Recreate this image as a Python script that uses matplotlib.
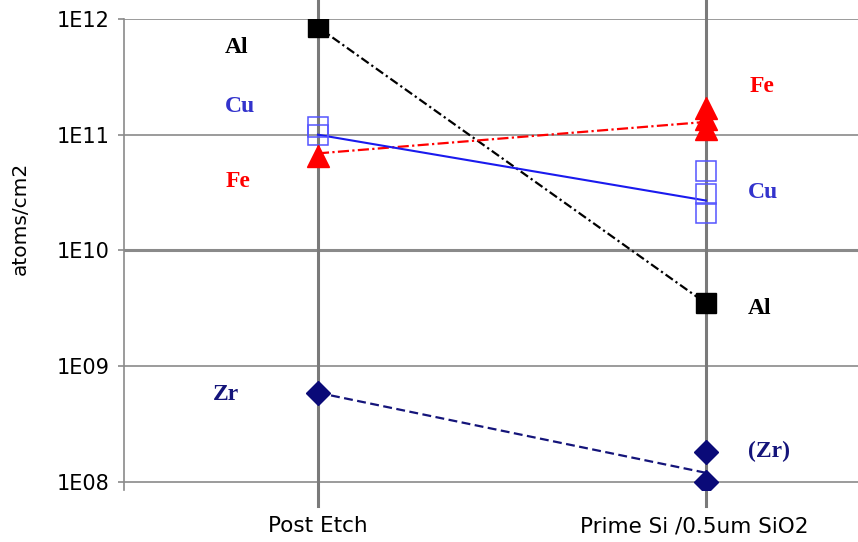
import matplotlib
matplotlib.use("Agg")
import matplotlib.pyplot as plt
from matplotlib.ticker import FixedLocator, FixedFormatter, NullLocator
from matplotlib.transforms import ScaledTranslation

# ── Data (atoms/cm2) ──────────────────────────────────────────────────────────
categories = ["Post Etch", "Prime Si /0.5um SiO2"]
cat_x = [0, 1]

al_post = [8.5e11]
al_prime = [3.5e9]
al_mean = [8.5e11, 3.5e9]

cu_post = [1.16e11, 0.99e11]
cu_prime = [4.9e10, 3.05e10, 2.09e10]
cu_mean = [1.0e11, 2.7e10]

fe_post = [6.5e10]
fe_prime = [1.69e11, 1.38e11, 1.13e11]
fe_mean = [6.9e10, 1.29e11]

zr_post = [5.9e8]
zr_prime = [1.8e8, 1.0e8]
zr_mean = [5.9e8, 1.2e8]

ytick_vals = [1e8, 1e9, 1e10, 1e11, 1e12]
ytick_labels = ["1E08", "1E09", "1E10", "1E11", "1E12"]

# element labels: (text, x, y, colour)
labels = [
    ("Al",   -0.240, 5.7e11,  "black"),
    ("Cu",   -0.240, 1.74e11, "#3333cc"),
    ("Fe",   -0.237, 3.98e10, "red"),
    ("Zr",   -0.271, 5.75e8,  "#14147a"),
    ("Fe",    1.113, 2.59e11, "red"),
    ("Cu",    1.108, 3.2e10,  "#3333cc"),
    ("Al",    1.108, 3.13e9,  "black"),
    ("(Zr)",  1.108, 1.85e8,  "#14147a"),
]

# ── Figure ────────────────────────────────────────────────────────────────────
fig = plt.figure(figsize=(8.58, 5.42), dpi=100)
ax = fig.add_axes([0.1445, 0.096, 0.8555, 0.869])

ax.set_yscale("log")
ax.set_ylim(10 ** 7.931, 1e12)
ax.set_xlim(-0.5, 1.392)

# horizontal grid
for v in ytick_vals:
    ax.axhline(v, color="#8a8a8a", lw=2.2 if v == 1e10 else 1.2, zorder=1)

# category lines (extend past the plot area)
for x in cat_x:
    ax.axvline(x, ymin=-0.034, ymax=1.05, color="#7a7a7a", lw=2.2,
               clip_on=False, zorder=2)

# connecting lines
ax.plot(cat_x, al_mean, color="black", lw=1.6, ls=(0, (4, 1.5, 1, 1.5)), zorder=3)
ax.plot(cat_x, fe_mean, color="red", lw=1.6, ls=(0, (5, 1.5, 1, 1.5)), zorder=3)
ax.plot(cat_x, cu_mean, color="#1a1aee", lw=1.5, zorder=3)
ax.plot(cat_x, zr_mean, color="#14147a", lw=1.6, ls=(0, (4, 2)), zorder=3)

# markers
ax.plot([0] * len(al_post), al_post, "s", color="black", ms=15, zorder=5)
ax.plot([1] * len(al_prime), al_prime, "s", color="black", ms=15, zorder=5)

ax.plot([0] * len(cu_post), cu_post, "s", mfc="none", mec="#5555ff",
        mew=1.1, ms=15, zorder=5)
ax.plot([1] * len(cu_prime), cu_prime, "s", mfc="none", mec="#5555ff",
        mew=1.1, ms=15, zorder=5)

ax.plot([0] * len(fe_post), fe_post, "^", color="red", ms=16, zorder=5)
ax.plot([1] * len(fe_prime), fe_prime, "^", color="red", ms=16, zorder=5)

ax.plot([0] * len(zr_post), zr_post, "D", color="#0a0a78", ms=12, zorder=5)
ax.plot([1] * len(zr_prime), zr_prime, "D", color="#0a0a78", ms=12, zorder=5)

# element labels
for txt, x, y, c in labels:
    ax.text(x, y, txt, color=c, fontsize=17, fontweight="bold",
            family="Liberation Serif", ha="left", va="center", zorder=6)

# ── Axes styling ──────────────────────────────────────────────────────────────
for side in ["top", "right", "bottom"]:
    ax.spines[side].set_visible(False)
ax.spines["left"].set_color("#8a8a8a")
ax.spines["left"].set_linewidth(1.2)

ax.yaxis.set_major_locator(FixedLocator(ytick_vals))
ax.yaxis.set_major_formatter(FixedFormatter(ytick_labels))
ax.yaxis.set_minor_locator(NullLocator())
ax.tick_params(axis="y", length=4.5, width=1.2, color="#8a8a8a", pad=6,
               labelsize=15)

ax.set_xticks(cat_x)
ax.set_xticklabels(categories)
ax.tick_params(axis="x", length=0, pad=19, labelsize=15.5)
# second category label sits a little left of its line in the original
lbl = ax.get_xticklabels()[1]
lbl.set_transform(lbl.get_transform() + ScaledTranslation(-0.12, 0, fig.dpi_scale_trans))

ax.set_ylabel("atoms/cm2", fontsize=14.5)
ax.yaxis.set_label_coords(-0.129, 0.577)

fig.savefig("out.png", dpi=100)
